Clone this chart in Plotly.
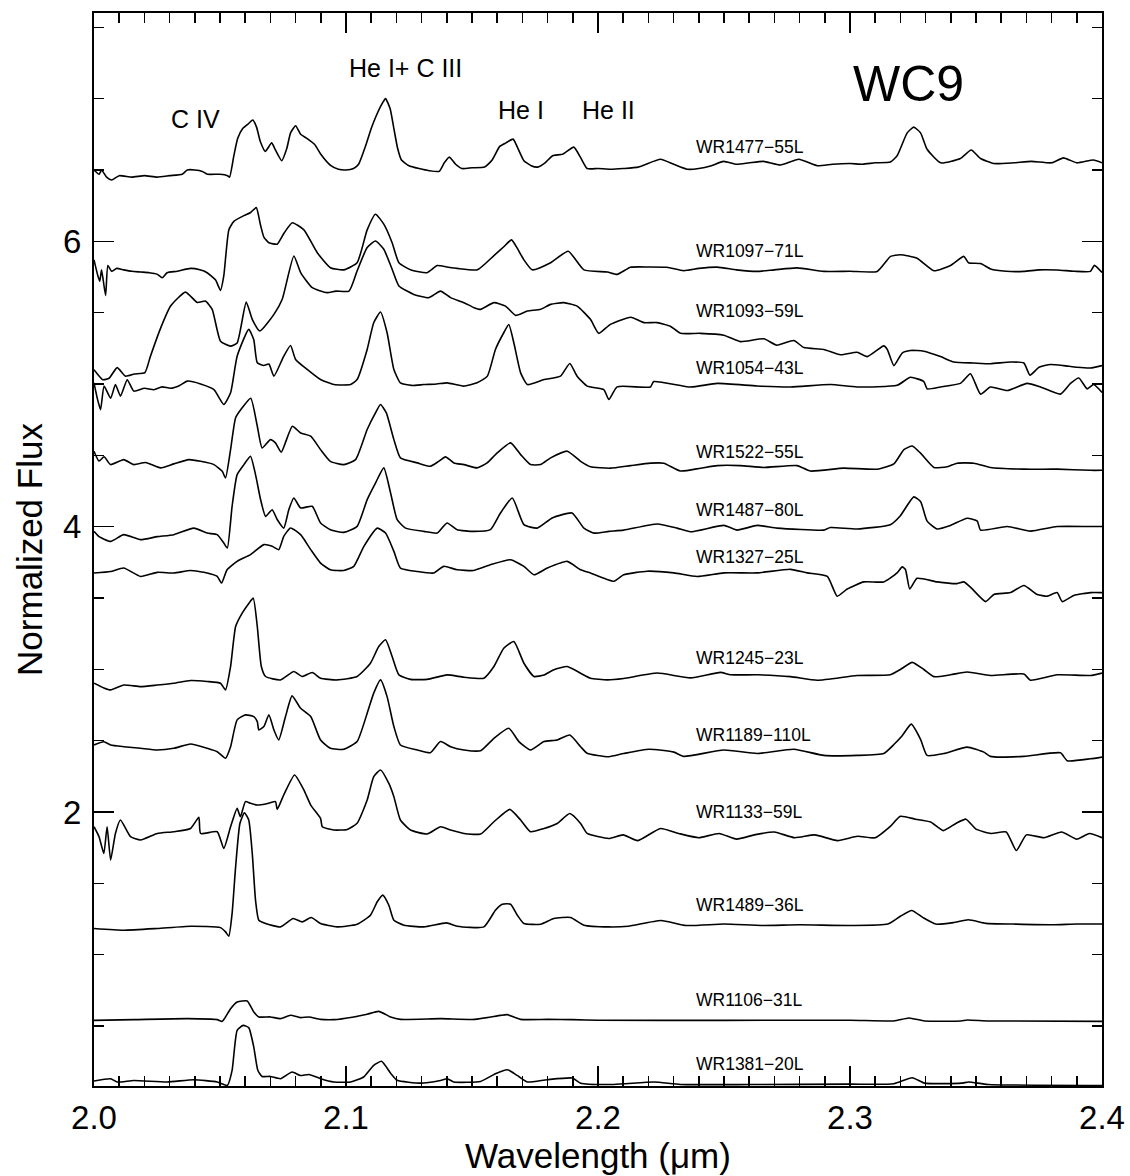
import plotly.graph_objects as go

# ---------------- data: (wavelength [um], normalized flux) ----------------
wr1477 = [(2.000, 6.50), (2.002, 6.47), (2.003, 6.50), (2.005, 6.45), (2.007, 6.43), (2.010, 6.46), (2.015, 6.45),
          (2.020, 6.46), (2.025, 6.45), (2.030, 6.46), (2.035, 6.47), (2.037, 6.50), (2.040, 6.50), (2.043, 6.49),
          (2.045, 6.47), (2.050, 6.47), (2.053, 6.46), (2.0538, 6.45), (2.0555, 6.60), (2.057, 6.72), (2.059, 6.79),
          (2.061, 6.82), (2.063, 6.85), (2.0645, 6.80), (2.066, 6.70), (2.068, 6.63), (2.0705, 6.69), (2.072, 6.64),
          (2.0745, 6.565), (2.0765, 6.65), (2.078, 6.76), (2.080, 6.81), (2.082, 6.75), (2.0846, 6.72), (2.0875, 6.68),
          (2.090, 6.61), (2.094, 6.53), (2.097, 6.505), (2.100, 6.50), (2.103, 6.51), (2.105, 6.54), (2.108, 6.68),
          (2.110, 6.79), (2.112, 6.88), (2.1145, 6.97), (2.1157, 7.00), (2.1175, 6.93), (2.119, 6.79), (2.1205, 6.65),
          (2.122, 6.57), (2.125, 6.53), (2.129, 6.51), (2.133, 6.495), (2.137, 6.49), (2.139, 6.55), (2.141, 6.59),
          (2.1435, 6.54), (2.146, 6.51), (2.150, 6.515), (2.155, 6.52), (2.158, 6.57), (2.161, 6.665), (2.1635, 6.69),
          (2.1663, 6.716), (2.168, 6.66), (2.1706, 6.565), (2.1735, 6.53), (2.176, 6.52), (2.179, 6.55), (2.182, 6.60),
          (2.186, 6.61), (2.1904, 6.66), (2.193, 6.59), (2.1957, 6.51), (2.200, 6.51), (2.205, 6.505), (2.210, 6.51),
          (2.216, 6.52), (2.2248, 6.575), (2.230, 6.54), (2.2354, 6.505), (2.240, 6.51), (2.245, 6.53), (2.2498, 6.56),
          (2.255, 6.54), (2.260, 6.55), (2.2657, 6.56), (2.2724, 6.535), (2.2797, 6.575), (2.287, 6.53), (2.293, 6.54),
          (2.300, 6.545), (2.305, 6.54), (2.310, 6.55), (2.316, 6.555), (2.3187, 6.60), (2.3227, 6.76), (2.3253, 6.80),
          (2.328, 6.76), (2.3306, 6.645), (2.336, 6.55), (2.3438, 6.58), (2.3481, 6.64), (2.3518, 6.58), (2.357, 6.545),
          (2.365, 6.55), (2.372, 6.56), (2.380, 6.55), (2.3847, 6.585), (2.390, 6.55), (2.3966, 6.57), (2.400, 6.55)]

wr1097 = [(2.000, 5.87), (2.0015, 5.76), (2.0023, 5.72), (2.003, 5.80), (2.0046, 5.62), (2.0055, 5.83), (2.007, 5.79),
          (2.009, 5.81), (2.0118, 5.80), (2.015, 5.79), (2.0185, 5.785), (2.022, 5.78), (2.025, 5.77), (2.0271, 5.745),
          (2.029, 5.78), (2.033, 5.79), (2.0383, 5.81), (2.042, 5.80), (2.0449, 5.78), (2.0482, 5.73), (2.0502, 5.656),
          (2.0515, 5.757), (2.0535, 6.08), (2.0555, 6.14), (2.0595, 6.18), (2.062, 6.20), (2.0644, 6.236), (2.066, 6.12),
          (2.0674, 6.03), (2.0694, 5.99), (2.0727, 5.98), (2.0755, 6.06), (2.0787, 6.13), (2.0833, 6.08), (2.0886, 5.92),
          (2.0938, 5.815), (2.0991, 5.80), (2.1044, 5.85), (2.1084, 6.08), (2.1117, 6.19), (2.115, 6.12), (2.1183, 5.99),
          (2.121, 5.85), (2.1256, 5.80), (2.1322, 5.78), (2.1362, 5.83), (2.140, 5.82), (2.1441, 5.81), (2.1521, 5.80),
          (2.1587, 5.90), (2.1625, 5.96), (2.1657, 6.01), (2.168, 5.95), (2.1706, 5.87), (2.1739, 5.80), (2.1812, 5.85),
          (2.1882, 5.93), (2.1944, 5.80), (2.2037, 5.785), (2.2076, 5.768), (2.2129, 5.818), (2.220, 5.82), (2.2274, 5.818),
          (2.234, 5.794), (2.240, 5.81), (2.2473, 5.819), (2.255, 5.80), (2.2632, 5.789), (2.270, 5.80), (2.279, 5.814),
          (2.2896, 5.789), (2.300, 5.79), (2.3108, 5.789), (2.3161, 5.894), (2.320, 5.906), (2.3266, 5.881), (2.3333, 5.794),
          (2.3399, 5.831), (2.3452, 5.894), (2.347, 5.85), (2.3518, 5.844), (2.3558, 5.806), (2.362, 5.79), (2.369, 5.789),
          (2.375, 5.80), (2.3822, 5.799), (2.389, 5.79), (2.3954, 5.789), (2.397, 5.831), (2.400, 5.781)]

wr1093 = [(2.000, 5.10), (2.0035, 5.03), (2.006, 5.04), (2.0092, 5.115), (2.0125, 5.055), (2.016, 5.07), (2.0202, 5.08),
          (2.0224, 5.195), (2.0264, 5.39), (2.0304, 5.546), (2.0363, 5.644), (2.041, 5.571), (2.0442, 5.581), (2.0469, 5.523),
          (2.0502, 5.30), (2.0542, 5.265), (2.0568, 5.288), (2.0604, 5.574), (2.0628, 5.453), (2.0658, 5.371), (2.0714, 5.488),
          (2.0747, 5.594), (2.0793, 5.897), (2.082, 5.781), (2.0866, 5.675), (2.0925, 5.64), (2.096, 5.651), (2.1012, 5.651),
          (2.1044, 5.792), (2.1084, 5.956), (2.1117, 6.002), (2.115, 5.944), (2.1183, 5.804), (2.121, 5.687), (2.1269, 5.628),
          (2.1329, 5.605), (2.1375, 5.651), (2.1415, 5.605), (2.1468, 5.57), (2.1508, 5.535), (2.1534, 5.523), (2.1587, 5.57),
          (2.1633, 5.546), (2.1673, 5.481), (2.172, 5.511), (2.1772, 5.523), (2.1812, 5.558), (2.1864, 5.57), (2.1917, 5.546),
          (2.197, 5.453), (2.2003, 5.355), (2.2049, 5.418), (2.213, 5.468), (2.2182, 5.43), (2.2235, 5.43), (2.2287, 5.405),
          (2.2327, 5.355), (2.2406, 5.355), (2.2499, 5.342), (2.2565, 5.297), (2.2658, 5.317), (2.271, 5.272), (2.2777, 5.305),
          (2.2817, 5.255), (2.2896, 5.242), (2.2962, 5.205), (2.3028, 5.222), (2.3068, 5.192), (2.3134, 5.267), (2.3148, 5.242),
          (2.3174, 5.129), (2.3207, 5.217), (2.324, 5.235), (2.3293, 5.23), (2.3359, 5.192), (2.3412, 5.154), (2.3491, 5.147),
          (2.3557, 5.142), (2.3637, 5.154), (2.369, 5.147), (2.3714, 5.062), (2.375, 5.117), (2.3796, 5.137), (2.3848, 5.129),
          (2.3901, 5.117), (2.3954, 5.112), (2.400, 5.129)]

wr1054 = [(2.000, 5.008), (2.0013, 4.90), (2.0026, 4.82), (2.004, 4.985), (2.0066, 4.90), (2.0085, 4.996), (2.0105, 4.915),
          (2.0132, 5.03), (2.0158, 4.95), (2.020, 4.97), (2.0238, 4.96), (2.027, 4.98), (2.0304, 4.97), (2.034, 4.99),
          (2.037, 5.02), (2.0423, 5.0), (2.0476, 4.96), (2.0515, 4.856), (2.0542, 4.938), (2.0568, 5.195), (2.0614, 5.383),
          (2.0634, 5.31), (2.0648, 5.148), (2.0674, 5.13), (2.0694, 5.14), (2.0714, 5.055), (2.0753, 5.195), (2.078, 5.27),
          (2.080, 5.172), (2.0846, 5.102), (2.0899, 5.031), (2.0952, 4.996), (2.1018, 4.996), (2.1044, 5.031), (2.1084, 5.242),
          (2.111, 5.429), (2.1137, 5.504), (2.1163, 5.359), (2.119, 5.102), (2.1216, 5.008), (2.126, 4.99), (2.1309, 4.996),
          (2.136, 5.0), (2.1401, 5.008), (2.1467, 4.985), (2.152, 5.008), (2.1561, 5.055), (2.1593, 5.242), (2.1626, 5.359),
          (2.1646, 5.417), (2.1666, 5.289), (2.1693, 5.078), (2.172, 4.996), (2.1786, 5.031), (2.1851, 5.055), (2.1888, 5.144),
          (2.1917, 5.055), (2.1957, 4.985), (2.2023, 4.961), (2.2043, 4.891), (2.2076, 4.98), (2.2208, 4.979), (2.2221, 5.017),
          (2.2367, 4.979), (2.2473, 5.004), (2.2632, 4.986), (2.2764, 4.979), (2.2922, 4.996), (2.3028, 4.979), (2.3187, 4.991),
          (2.324, 5.047), (2.3293, 5.017), (2.3306, 4.966), (2.3359, 4.979), (2.3438, 5.004), (2.3478, 5.072), (2.3518, 4.929),
          (2.3557, 4.979), (2.3624, 4.954), (2.3703, 5.004), (2.3756, 4.979), (2.3835, 4.929), (2.3875, 5.004), (2.3908, 5.042),
          (2.3941, 4.966), (2.3967, 4.996), (2.400, 4.941)]

wr1522 = [(2.000, 4.529), (2.002, 4.46), (2.004, 4.49), (2.0066, 4.435), (2.0118, 4.47), (2.0158, 4.435), (2.0205, 4.45),
          (2.0264, 4.412), (2.0317, 4.44), (2.0376, 4.47), (2.0423, 4.458), (2.0476, 4.435), (2.0509, 4.388), (2.0522, 4.341),
          (2.0542, 4.54), (2.0562, 4.763), (2.0588, 4.833), (2.0622, 4.90), (2.0648, 4.704), (2.0667, 4.552), (2.070, 4.61),
          (2.072, 4.587), (2.0743, 4.522), (2.0787, 4.704), (2.082, 4.657), (2.086, 4.634), (2.0899, 4.54), (2.0938, 4.458),
          (2.0991, 4.435), (2.1038, 4.47), (2.1084, 4.681), (2.1117, 4.797), (2.1137, 4.856), (2.116, 4.797), (2.119, 4.61),
          (2.1216, 4.482), (2.1283, 4.447), (2.1335, 4.423), (2.1368, 4.458), (2.1395, 4.489), (2.1428, 4.447), (2.1468, 4.435),
          (2.152, 4.412), (2.156, 4.447), (2.160, 4.517), (2.1653, 4.587), (2.1693, 4.505), (2.1732, 4.435), (2.1772, 4.435),
          (2.1812, 4.482), (2.1878, 4.529), (2.1931, 4.458), (2.197, 4.42), (2.2049, 4.41), (2.2129, 4.428), (2.2208, 4.445),
          (2.2261, 4.445), (2.2327, 4.39), (2.2407, 4.41), (2.2473, 4.428), (2.2565, 4.428), (2.2658, 4.415), (2.279, 4.428),
          (2.2843, 4.39), (2.2975, 4.41), (2.3108, 4.403), (2.3174, 4.44), (2.3214, 4.54), (2.3247, 4.565), (2.328, 4.515),
          (2.3333, 4.415), (2.3386, 4.42), (2.3425, 4.445), (2.3491, 4.445), (2.3557, 4.415), (2.369, 4.403), (2.3822, 4.403),
          (2.3954, 4.395), (2.400, 4.395)]

wr1487 = [(2.000, 3.967), (2.002, 3.93), (2.0066, 3.897), (2.0118, 3.944), (2.0185, 3.909), (2.0251, 3.93), (2.0317, 3.944),
          (2.0396, 3.99), (2.0449, 3.955), (2.0489, 3.944), (2.0515, 3.885), (2.0529, 3.85), (2.0548, 4.143), (2.0568, 4.365),
          (2.0595, 4.435), (2.0621, 4.494), (2.0641, 4.365), (2.0661, 4.19), (2.0681, 4.072), (2.0707, 4.119), (2.0727, 4.05),
          (2.0753, 3.99), (2.0773, 4.119), (2.0793, 4.201), (2.082, 4.131), (2.0866, 4.143), (2.0899, 4.026), (2.0938, 3.979),
          (2.0991, 3.96), (2.1044, 4.002), (2.1084, 4.19), (2.1117, 4.306), (2.115, 4.412), (2.1177, 4.236), (2.1203, 4.049),
          (2.1236, 3.99), (2.1309, 3.967), (2.1362, 3.955), (2.1401, 4.026), (2.1441, 3.979), (2.1507, 3.967), (2.1573, 3.979),
          (2.1613, 4.096), (2.166, 4.201), (2.1706, 4.014), (2.1759, 3.99), (2.1818, 4.061), (2.1897, 4.096), (2.1944, 3.99),
          (2.1984, 3.955), (2.2043, 3.967), (2.2102, 3.976), (2.2235, 4.019), (2.2314, 3.99), (2.2367, 3.964), (2.250, 4.009),
          (2.2552, 3.976), (2.2632, 4.009), (2.2711, 3.99), (2.2896, 3.976), (2.2922, 3.994), (2.3028, 3.984), (2.316, 4.014),
          (2.320, 4.077), (2.3253, 4.209), (2.328, 4.177), (2.3306, 4.039), (2.3346, 3.984), (2.3399, 4.009), (2.3465, 4.059),
          (2.3505, 4.039), (2.3518, 3.976), (2.3624, 4.001), (2.3716, 3.969), (2.3822, 4.001), (2.3954, 4.001), (2.400, 4.001)]

wr1327 = [(2.000, 3.675), (2.0066, 3.686), (2.0118, 3.71), (2.0185, 3.651), (2.0251, 3.68), (2.0317, 3.675), (2.0383, 3.693),
          (2.0449, 3.675), (2.0489, 3.651), (2.0506, 3.605), (2.0528, 3.698), (2.0568, 3.757), (2.0621, 3.804), (2.0674, 3.874),
          (2.0707, 3.862), (2.0733, 3.839), (2.0753, 3.932), (2.078, 3.991), (2.082, 3.944), (2.086, 3.839), (2.0899, 3.745),
          (2.0938, 3.698), (2.0991, 3.693), (2.1031, 3.722), (2.1071, 3.862), (2.1124, 3.99), (2.1157, 3.955), (2.119, 3.827),
          (2.1216, 3.71), (2.1283, 3.686), (2.1348, 3.675), (2.1388, 3.722), (2.1441, 3.698), (2.1507, 3.693), (2.1573, 3.733),
          (2.1653, 3.768), (2.1706, 3.722), (2.1746, 3.663), (2.1799, 3.71), (2.1878, 3.757), (2.1931, 3.698), (2.197, 3.676),
          (2.2063, 3.618), (2.2102, 3.663), (2.2195, 3.688), (2.2301, 3.676), (2.2393, 3.651), (2.250, 3.676), (2.2632, 3.676),
          (2.2764, 3.701), (2.283, 3.676), (2.291, 3.651), (2.2949, 3.513), (2.2989, 3.563), (2.3055, 3.613), (2.3134, 3.613),
          (2.3187, 3.676), (2.3207, 3.718), (2.322, 3.70), (2.3237, 3.563), (2.3266, 3.638), (2.3346, 3.613), (2.3425, 3.601),
          (2.3452, 3.613), (2.3478, 3.576), (2.3538, 3.475), (2.3571, 3.525), (2.3637, 3.538), (2.369, 3.588), (2.3743, 3.525),
          (2.3783, 3.513), (2.3822, 3.538), (2.3842, 3.475), (2.3888, 3.518), (2.3954, 3.538), (2.400, 3.538)]

wr1245 = [(2.000, 2.903), (2.0039, 2.87), (2.0066, 2.856), (2.0118, 2.89), (2.0185, 2.879), (2.0251, 2.89), (2.0317, 2.903),
          (2.0383, 2.922), (2.0449, 2.915), (2.0502, 2.903), (2.0522, 2.856), (2.0542, 3.02), (2.0562, 3.30), (2.0588, 3.394),
          (2.0615, 3.464), (2.0632, 3.499), (2.0648, 3.30), (2.0664, 3.02), (2.0681, 2.95), (2.074, 2.926), (2.0793, 2.985),
          (2.0826, 2.95), (2.0866, 2.978), (2.0899, 2.938), (2.0965, 2.926), (2.1044, 2.95), (2.1097, 3.043), (2.113, 3.16),
          (2.1157, 3.207), (2.1183, 3.09), (2.121, 2.961), (2.1256, 2.93), (2.1322, 2.93), (2.1401, 2.961), (2.1468, 2.945),
          (2.1547, 2.938), (2.1587, 3.02), (2.1626, 3.148), (2.1666, 3.195), (2.1706, 3.043), (2.1746, 2.95), (2.1786, 2.961),
          (2.1825, 2.998), (2.1878, 3.02), (2.1931, 2.973), (2.197, 2.938), (2.2037, 2.926), (2.2102, 2.936), (2.2235, 2.974),
          (2.2367, 2.94), (2.2486, 2.979), (2.2526, 2.962), (2.2632, 2.962), (2.2764, 2.949), (2.287, 2.924), (2.3028, 2.957),
          (2.316, 2.962), (2.320, 2.999), (2.3247, 3.049), (2.3293, 2.999), (2.3333, 2.949), (2.3399, 2.962), (2.3465, 2.981),
          (2.3557, 2.957), (2.369, 2.967), (2.3716, 2.924), (2.3822, 2.962), (2.3954, 2.957), (2.400, 2.974)]

wr1189 = [(2.000, 2.47), (2.0039, 2.493), (2.0066, 2.47), (2.0118, 2.458), (2.0185, 2.447), (2.0251, 2.435), (2.0317, 2.447),
          (2.0383, 2.477), (2.0449, 2.447), (2.0489, 2.423), (2.0522, 2.377), (2.0542, 2.458), (2.0568, 2.646), (2.0601, 2.681),
          (2.0634, 2.669), (2.0648, 2.634), (2.0654, 2.575), (2.0674, 2.599), (2.0694, 2.681), (2.0714, 2.575), (2.0733, 2.505),
          (2.076, 2.669), (2.0786, 2.814), (2.082, 2.727), (2.086, 2.669), (2.0899, 2.505), (2.0938, 2.447), (2.0991, 2.44),
          (2.1044, 2.494), (2.1084, 2.692), (2.111, 2.833), (2.1137, 2.926), (2.1163, 2.809), (2.119, 2.599), (2.1216, 2.47),
          (2.1283, 2.435), (2.1335, 2.416), (2.1375, 2.494), (2.1415, 2.458), (2.1468, 2.435), (2.1534, 2.43), (2.1587, 2.517),
          (2.1646, 2.587), (2.1686, 2.494), (2.1732, 2.435), (2.1786, 2.494), (2.1838, 2.505), (2.1888, 2.54), (2.1931, 2.458),
          (2.1957, 2.412), (2.2043, 2.388), (2.2102, 2.41), (2.2202, 2.44), (2.2301, 2.42), (2.234, 2.39), (2.2499, 2.435),
          (2.2632, 2.41), (2.2777, 2.44), (2.2896, 2.397), (2.3028, 2.397), (2.3134, 2.41), (2.3174, 2.473), (2.3207, 2.535),
          (2.3243, 2.616), (2.328, 2.51), (2.3306, 2.397), (2.3372, 2.41), (2.3465, 2.455), (2.3531, 2.42), (2.3557, 2.39),
          (2.369, 2.39), (2.3835, 2.415), (2.3862, 2.36), (2.3954, 2.373), (2.400, 2.385)]

wr1133 = [(2.000, 1.897), (2.002, 1.827), (2.0039, 1.71), (2.0052, 1.897), (2.0066, 1.663), (2.0085, 1.85), (2.0105, 1.944),
          (2.0145, 1.827), (2.0185, 1.804), (2.0251, 1.85), (2.0317, 1.862), (2.0383, 1.885), (2.0416, 1.963), (2.0423, 1.85),
          (2.0489, 1.862), (2.0515, 1.745), (2.0542, 1.897), (2.0568, 2.026), (2.0581, 1.967), (2.0601, 2.073), (2.0621, 2.061),
          (2.0648, 2.049), (2.0681, 2.056), (2.072, 2.073), (2.0727, 2.019), (2.0753, 2.12), (2.0796, 2.26), (2.0833, 2.154),
          (2.086, 2.049), (2.0899, 1.956), (2.0906, 1.897), (2.0952, 1.874), (2.1005, 1.878), (2.1044, 1.921), (2.1084, 2.084),
          (2.111, 2.248), (2.1137, 2.295), (2.117, 2.201), (2.119, 2.108), (2.1216, 1.944), (2.1256, 1.874), (2.1322, 1.846),
          (2.1375, 1.897), (2.1415, 1.874), (2.1468, 1.85), (2.1534, 1.846), (2.1587, 1.932), (2.165, 2.019), (2.1693, 1.944),
          (2.1732, 1.862), (2.1786, 1.885), (2.1838, 1.92), (2.1888, 1.99), (2.1931, 1.92), (2.1957, 1.85), (2.2043, 1.815),
          (2.210, 1.84), (2.2158, 1.80), (2.2248, 1.885), (2.232, 1.85), (2.240, 1.82), (2.248, 1.85), (2.255, 1.81),
          (2.262, 1.84), (2.270, 1.86), (2.278, 1.82), (2.286, 1.84), (2.295, 1.80), (2.303, 1.83), (2.310, 1.82),
          (2.316, 1.90), (2.320, 1.97), (2.326, 1.95), (2.332, 1.93), (2.337, 1.87), (2.342, 1.92), (2.346, 1.95),
          (2.350, 1.88), (2.356, 1.85), (2.362, 1.86), (2.366, 1.73), (2.370, 1.84), (2.377, 1.82), (2.384, 1.86),
          (2.390, 1.81), (2.395, 1.85), (2.400, 1.82)]

wr1489 = [(2.000, 1.184), (2.0118, 1.172), (2.0251, 1.184), (2.0383, 1.20), (2.0502, 1.19), (2.0522, 1.16), (2.0535, 1.13),
          (2.0548, 1.289), (2.0562, 1.616), (2.0579, 1.92), (2.0597, 1.995), (2.0614, 1.944), (2.0628, 1.71), (2.0641, 1.382),
          (2.0654, 1.242), (2.0681, 1.219), (2.074, 1.195), (2.079, 1.254), (2.0826, 1.23), (2.0862, 1.261), (2.0899, 1.219),
          (2.0965, 1.195), (2.1044, 1.214), (2.1097, 1.277), (2.1124, 1.371), (2.1146, 1.418), (2.117, 1.347), (2.119, 1.242),
          (2.123, 1.207), (2.1309, 1.195), (2.1399, 1.223), (2.1441, 1.20), (2.1547, 1.195), (2.1593, 1.312), (2.162, 1.354),
          (2.1653, 1.354), (2.168, 1.277), (2.1706, 1.219), (2.1772, 1.214), (2.1825, 1.254), (2.1891, 1.261), (2.1944, 1.207),
          (2.2043, 1.195), (2.212, 1.20), (2.225, 1.24), (2.235, 1.205), (2.250, 1.215), (2.265, 1.205), (2.280, 1.21),
          (2.300, 1.205), (2.315, 1.215), (2.320, 1.27), (2.3245, 1.31), (2.329, 1.26), (2.334, 1.215), (2.341, 1.225),
          (2.347, 1.245), (2.354, 1.22), (2.365, 1.215), (2.380, 1.21), (2.390, 1.215), (2.400, 1.215)]

wr1106 = [(2.000, 0.54), (2.0158, 0.545), (2.037, 0.552), (2.0489, 0.545), (2.0509, 0.533), (2.0542, 0.622), (2.0568, 0.669),
          (2.0608, 0.676), (2.0634, 0.599), (2.0654, 0.564), (2.070, 0.564), (2.074, 0.552), (2.078, 0.576), (2.0819, 0.559),
          (2.0853, 0.564), (2.0899, 0.547), (2.0952, 0.545), (2.1031, 0.564), (2.1084, 0.583), (2.113, 0.603), (2.1177, 0.564),
          (2.1216, 0.547), (2.1375, 0.552), (2.1511, 0.547), (2.1613, 0.575), (2.164, 0.58), (2.1692, 0.547), (2.180, 0.547),
          (2.190, 0.545), (2.200, 0.541), (2.250, 0.540), (2.300, 0.541), (2.3174, 0.536), (2.3234, 0.557), (2.3296, 0.536),
          (2.344, 0.536), (2.3465, 0.543), (2.355, 0.536), (2.400, 0.533)]

wr1381 = [(2.000, 0.115), (2.0066, 0.131), (2.0092, 0.108), (2.0158, 0.119), (2.029, 0.108), (2.0396, 0.124), (2.0489, 0.108),
          (2.0529, 0.084), (2.0548, 0.19), (2.0568, 0.47), (2.0592, 0.505), (2.0614, 0.489), (2.0634, 0.353), (2.065, 0.19),
          (2.0667, 0.147), (2.070, 0.147), (2.074, 0.131), (2.0786, 0.178), (2.0819, 0.154), (2.0853, 0.161), (2.0899, 0.131),
          (2.0952, 0.108), (2.1018, 0.108), (2.107, 0.143), (2.111, 0.225), (2.1141, 0.253), (2.1177, 0.17), (2.1203, 0.12),
          (2.1296, 0.10), (2.1375, 0.119), (2.1402, 0.131), (2.1428, 0.108), (2.1534, 0.112), (2.1593, 0.166), (2.164, 0.194),
          (2.1679, 0.154), (2.1719, 0.108), (2.1798, 0.124), (2.1898, 0.136), (2.1931, 0.10), (2.2063, 0.091), (2.2222, 0.108),
          (2.2327, 0.091), (2.260, 0.090), (2.300, 0.093), (2.3174, 0.096), (2.3247, 0.138), (2.3296, 0.10), (2.3442, 0.10),
          (2.3471, 0.108), (2.3548, 0.091), (2.400, 0.084)]

star_names = ["WR1477−55L", "WR1097−71L", "WR1093−59L", "WR1054−43L", "WR1522−55L", "WR1487−80L", "WR1327−25L",
              "WR1245−23L", "WR1189−110L", "WR1133−59L", "WR1489−36L", "WR1106−31L", "WR1381−20L"]
star_spectra = [wr1477, wr1097, wr1093, wr1054, wr1522, wr1487, wr1327, wr1245, wr1189, wr1133, wr1489, wr1106, wr1381]

line_ids = ["C IV", "He I+ C III", "He I", "He II"]

# ---------------- layout-only positions ----------------
name_label_y = [6.66, 5.932, 5.512, 5.11, 4.526, 4.114, 3.79, 3.077, 2.537, 2.0, 1.347, 0.681, 0.237]
name_label_x = 2.2381
line_id_pos = [(2.0403, 6.858), (2.1236, 7.213), (2.1696, 6.921), (2.2043, 6.921)]

FONT = "Liberation Sans, Arial, Helvetica, sans-serif"

fig = go.Figure()
for name, spec in zip(star_names, star_spectra):
    wl = [p[0] for p in spec]
    fx = [p[1] for p in spec]
    fig.add_trace(go.Scatter(x=wl, y=fx, mode="lines", name=name,
                             line=dict(color="black", width=1.6, shape="spline", smoothing=0.5),
                             showlegend=False, hoverinfo="skip"))

annotations = []
for name, ly in zip(star_names, name_label_y):
    annotations.append(dict(x=name_label_x, y=ly, text=name, showarrow=False, xanchor="left", yanchor="middle",
                            font=dict(family=FONT, size=17.5, color="black")))
for txt, (lx, ly) in zip(line_ids, line_id_pos):
    annotations.append(dict(x=lx, y=ly, text=txt, showarrow=False, xanchor="center", yanchor="middle",
                            font=dict(family=FONT, size=25, color="black")))
annotations.append(dict(x=2.3233, y=7.10, text="WC9", showarrow=False, xanchor="center", yanchor="middle",
                        font=dict(family=FONT, size=50, color="black")))

axis_common = dict(showline=True, linecolor="black", linewidth=2, mirror="ticks", ticks="inside",
                   tickcolor="black", tickwidth=1.5, ticklen=20, showgrid=False, zeroline=False,
                   automargin=False, tickfont=dict(family=FONT, size=33, color="black"))

fig.update_layout(
    template="none",
    width=1130, height=1176,
    margin=dict(l=94, r=28, t=13, b=90, autoexpand=False),
    paper_bgcolor="white", plot_bgcolor="white",
    font=dict(family=FONT, color="black"),
    annotations=annotations,
    xaxis=dict(range=[2.0, 2.4], tick0=2.0, dtick=0.1, tickformat=".1f", ticklabelstandoff=1,
               minor=dict(dtick=0.01, ticks="inside", ticklen=10, tickwidth=1.5, tickcolor="black", showgrid=False),
               title=dict(text="Wavelength (μm)", font=dict(family=FONT, size=35, color="black"), standoff=0),
               **axis_common),
    yaxis=dict(range=[0.08, 7.6], tick0=0, dtick=2, ticklabelstandoff=4,
               minor=dict(dtick=0.5, ticks="inside", ticklen=10, tickwidth=1.5, tickcolor="black", showgrid=False),
               title=dict(text="Normalized Flux", font=dict(family=FONT, size=35, color="black"), standoff=10),
               **axis_common),
)

fig.write_html("out.html",
               config={"displayModeBar": False, "staticPlot": True},
               post_script="document.body.style.margin='0px';document.body.style.overflow='hidden';")
